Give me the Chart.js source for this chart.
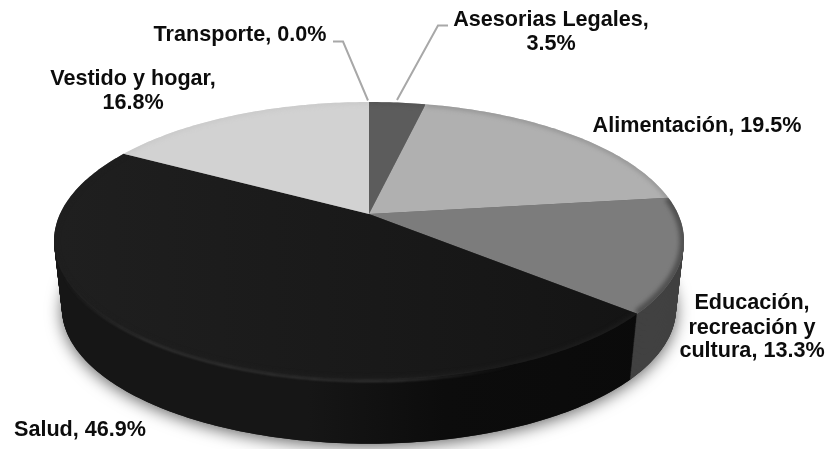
<!DOCTYPE html>
<html>
<head>
<meta charset="utf-8">
<script src="https://cdn.jsdelivr.net/npm/chart.js@4"></script>
<style>
  html, body { margin: 0; padding: 0; background: #fff; }
  #wrap { width: 829px; height: 449px; }
</style>
</head>
<body>
<div id="wrap"><canvas id="grafico" width="829" height="449"></canvas></div>
<script>
const categorias = ['Asesorias Legales', 'Alimentación', 'Educación, recreación y cultura', 'Salud', 'Vestido y hogar', 'Transporte'];
const valores = [3.5, 19.5, 13.3, 46.9, 16.8, 0.0];

const coresTopo = ['#5c5c5c', '#b0b0b0', '#7c7c7c', '#1f1f1f', '#d2d2d2', '#9a9a9a'];
const coresLado = ['#333333', '#6a6a6a', '#414141', '#161616', '#808080', '#555555'];
const coresBorda = ['#525252', '#969696', '#505050', '#1f1f1f', '#c8c8c8', '#888888'];
const largBorda = [4, 5, 9, 4, 4, 4];

// rotulos: linhas de texto separadas do valor, posicao fixa como no original
const rotulos = [
    { linhas: ['Asesorias Legales,', '3.5%'], x: 551, y: [20, 44] },
    { linhas: ['Alimentación, 19.5%'], x: 697, y: [126] },
    { linhas: ['Educación,', 'recreación y', 'cultura, 13.3%'], x: 752, y: [303, 328, 351] },
    { linhas: ['Salud, 46.9%'], x: 80, y: [430] },
    { linhas: ['Vestido y hogar,', '16.8%'], x: 133, y: [79, 103] },
    { linhas: ['Transporte, 0.0%'], x: 240, y: [35] }
];
const guias = [
    [[448, 25.5], [438, 25.5], [397, 100]],
    [[333, 41.5], [343, 41.5], [368, 100.5]]
];

// geometria da pizza em perspectiva (circulo unitario -> tela)
const PX = 369, PY = 214, A = 309, B = 133.7, K = 0.194;
const BASE_Y = 282, BASE_E = 0.975, CAMADAS = 70;

function ponto(t, s) {
    // s = 0 topo, s = 1 base
    const u = Math.cos(t), v = Math.sin(t), w = 1 - K * v;
    const e = 1 + (BASE_E - 1) * s;
    return [PX + e * A * u / w, PY + (BASE_Y - PY) * s + e * B * v / w];
}
function arco(ctx, s, a0, a1) {
    const n = Math.max(2, Math.ceil(Math.abs(a1 - a0) * 60));
    for (let i = 0; i <= n; i++) {
        const p = ponto(a0 + (a1 - a0) * i / n, s);
        ctx.lineTo(p[0], p[1]);
    }
}
function fatia(ctx, a, s) {
    ctx.beginPath();
    ctx.moveTo(PX, PY + (BASE_Y - PY) * s);
    arco(ctx, s, a.startAngle, a.endAngle);
    ctx.closePath();
}

const pizza3d = {
    id: 'pizza3d',
    beforeDatasetsDraw(chart) {
        const ctx = chart.ctx;
        const arcos = chart.getDatasetMeta(0).data;

        // sombra
        ctx.save();
        ctx.beginPath();
        arco(ctx, 1, 0, Math.PI * 2);
        ctx.closePath();
        ctx.shadowColor = 'rgba(0,0,0,0.6)';
        ctx.shadowBlur = 16;
        ctx.shadowOffsetY = 3;
        ctx.fillStyle = '#222';
        ctx.fill();
        ctx.restore();

        // laterais em camadas, de baixo para cima
        for (let c = CAMADAS; c > 0; c--) {
            arcos.forEach((a, i) => {
                if (a.endAngle - a.startAngle <= 0) return;
                const g = ctx.createLinearGradient(60, 0, 680, 0);
                g.addColorStop(0, coresLado[i]);
                if (i === 3) {
                    g.addColorStop(0.4, coresLado[i]);
                    g.addColorStop(0.62, '#0c0c0c');
                    g.addColorStop(1, '#0a0a0a');
                }
                fatia(ctx, a, c / CAMADAS);
                ctx.fillStyle = i === 3 ? g : coresLado[i];
                ctx.fill();
            });
        }

        // face de cima
        arcos.forEach((a, i) => {
            if (a.endAngle - a.startAngle <= 0) return;
            ctx.save();
            fatia(ctx, a, 0);
            if (i === 3) {
                const g = ctx.createLinearGradient(60, 0, 640, 0);
                g.addColorStop(0, a.options.backgroundColor);
                g.addColorStop(1, '#141414');
                ctx.fillStyle = g;
            } else {
                ctx.fillStyle = a.options.backgroundColor;
            }
            ctx.fill();
            ctx.clip();
            ctx.beginPath();
            arco(ctx, 0, a.startAngle, a.endAngle);
            ctx.strokeStyle = coresBorda[i];
            ctx.lineWidth = largBorda[i];
            ctx.filter = 'blur(2px)';
            ctx.stroke();
            ctx.restore();
        });

        // brilho na borda da frente
        ctx.save();
        ctx.beginPath();
        arco(ctx, 0.02, 1.0, Math.PI - 0.45);
        const brilho = ctx.createLinearGradient(60, 0, 630, 0);
        brilho.addColorStop(0, 'rgba(64,64,64,0)');
        brilho.addColorStop(0.15, '#3c3c3c');
        brilho.addColorStop(0.6, '#3c3c3c');
        brilho.addColorStop(0.8, 'rgba(50,50,50,0)');
        ctx.strokeStyle = brilho;
        ctx.lineWidth = 1.6;
        ctx.filter = 'blur(0.8px)';
        ctx.stroke();
        ctx.restore();
        return false;
    },
    afterDraw(chart) {
        const ctx = chart.ctx;
        ctx.save();
        ctx.strokeStyle = '#a8a8a8';
        ctx.lineWidth = 2;
        guias.forEach(g => {
            ctx.beginPath();
            g.forEach((p, i) => i ? ctx.lineTo(p[0], p[1]) : ctx.moveTo(p[0], p[1]));
            ctx.stroke();
        });
        ctx.fillStyle = '#0c0c0c';
        ctx.font = 'bold 21.6px "Liberation Sans", Arial, sans-serif';
        ctx.textAlign = 'center';
        ctx.textBaseline = 'middle';
        rotulos.forEach(r => r.linhas.forEach((l, i) => ctx.fillText(l, r.x, r.y[i])));
        ctx.restore();
    }
};

new Chart(document.getElementById('grafico'), {
    type: 'pie',
    data: {
        labels: categorias,
        datasets: [{ data: valores, backgroundColor: coresTopo, borderWidth: 0 }]
    },
    options: {
        responsive: false,
        animation: false,
        plugins: { legend: { display: false }, tooltip: { enabled: false } }
    },
    plugins: [pizza3d]
});
</script>
</body>
</html>
